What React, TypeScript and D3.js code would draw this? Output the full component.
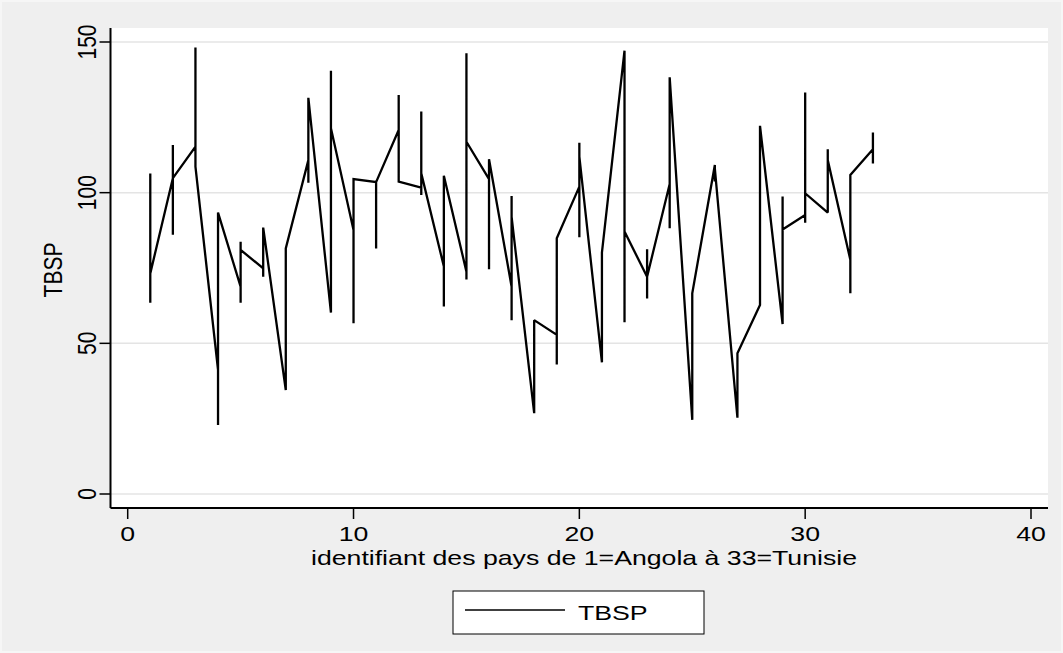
import React from 'react';
import * as d3 from 'd3';

// Country identifiers (1 = Angola ... 33 = Tunisie)
const countryIds: number[] = [
  1, 2, 3, 4, 5, 6, 7, 8, 9, 10, 11, 12, 13, 14, 15, 16, 17,
  18, 19, 20, 21, 22, 23, 24, 25, 26, 27, 28, 29, 30, 31, 32, 33,
];

// TBSP observations for each country, in data (sort) order
const tbspByCountry: number[][] = [
  [106.4, 63.5, 91.5, 73.2],
  [104.8, 86, 115.8, 104.8],
  [115.3, 148.2, 108.6],
  [41.2, 22.9, 93.4],
  [68.8, 63.5, 83.7, 81],
  [74.9, 72.1, 88.4],
  [34.5, 81.5],
  [110.8, 103.3, 131.5],
  [60.2, 140.5, 121.4],
  [87.6, 56.7, 104.5],
  [103.5, 81.5, 103.5],
  [120.8, 132.4, 103.7],
  [101.7, 99.2, 126.9, 106.4],
  [75.5, 62.2, 105.6],
  [73.8, 71.2, 146.3, 116.9],
  [104.5, 74.6, 111.1],
  [68.8, 57.7, 98.9, 92],
  [26.8, 57.7],
  [52.8, 43, 84.9],
  [102, 85.2, 116.6, 112],
  [43.7, 80.1],
  [147.1, 57, 87.1],
  [72.1, 64.9, 81.2, 72.1],
  [102.9, 88.2, 138.3],
  [24.6, 66.6],
  [109.2, 103.7, 108],
  [25.3, 46.7],
  [62.7, 122.2],
  [56.4, 98.7, 87.8],
  [92.6, 90, 133.2, 99.8],
  [93.4, 114.4, 110.8],
  [77.7, 66.6, 105.9],
  [114.4, 109.7, 120],
];

const xTicks: number[] = [0, 10, 20, 30, 40];
const yTicks: number[] = [0, 50, 100, 150];
const xTitle = 'identifiant des pays de 1=Angola à 33=Tunisie';
const yTitle = 'TBSP';
const legendLabel = 'TBSP';

const FONT = '"Liberation Sans", Arial, Helvetica, sans-serif';
const SX = 1.27; // horizontal stretch of the exported graph text
const FS = 21;

function T({
  x,
  y,
  rotate = false,
  anchor = 'middle',
  children,
}: {
  x: number;
  y: number;
  rotate?: boolean;
  anchor?: string;
  children: React.ReactNode;
}) {
  return (
    <g transform={`translate(${x},${y}) scale(${SX},1)${rotate ? ' rotate(-90)' : ''}`}>
      <text x={0} y={0} textAnchor={anchor} fontSize={FS} fill="#000">
        {children}
      </text>
    </g>
  );
}

export default function App() {
  const W = 1063;
  const H = 653;
  const plot = { left: 110.5, right: 1048, top: 28, bottom: 508 };

  const x = d3.scaleLinear().domain([0, 40]).range([127.7, 1031]);
  const y = d3.scaleLinear().domain([0, 150]).range([494, 42]);

  const points: [number, number][] = countryIds.flatMap((id, i) =>
    tbspByCountry[i].map((v) => [id, v] as [number, number])
  );
  const linePath = d3
    .line<[number, number]>()
    .x((d) => x(d[0]))
    .y((d) => y(d[1]))(points) as string;

  const xMid = 584;

  return (
    <svg
      width={W}
      height={H}
      style={{ position: 'absolute', left: 0, top: 0, display: 'block' }}
      fontFamily={FONT}
    >
      <rect x={0} y={0} width={W} height={H} fill="#efefef" />
      <rect x={1} y={1} width={W - 2} height={H - 2} fill="none" stroke="#f6f6f6" strokeWidth={2} />
      <rect
        x={plot.left}
        y={plot.top}
        width={plot.right - plot.left}
        height={plot.bottom - plot.top}
        fill="#ffffff"
      />
      {/* gridlines */}
      {yTicks.map((t) => (
        <line
          key={'g' + t}
          x1={plot.left}
          x2={plot.right}
          y1={y(t)}
          y2={y(t)}
          stroke="#e4e4e4"
          strokeWidth={1.5}
        />
      ))}
      {/* data line */}
      <path d={linePath} fill="none" stroke="#000" strokeWidth={2.3} strokeLinejoin="miter" strokeMiterlimit={2} />
      {/* axes */}
      <line x1={plot.left} x2={plot.left} y1={plot.top} y2={plot.bottom} stroke="#000" strokeWidth={2} />
      <line x1={plot.left} x2={plot.right} y1={plot.bottom} y2={plot.bottom} stroke="#000" strokeWidth={2} />
      {yTicks.map((t) => (
        <g key={'y' + t}>
          <line x1={plot.left - 11} x2={plot.left} y1={y(t)} y2={y(t)} stroke="#000" strokeWidth={1.5} />
          <T x={96} y={y(t)} rotate>
            {t}
          </T>
        </g>
      ))}
      {xTicks.map((t) => (
        <g key={'x' + t}>
          <line x1={x(t)} x2={x(t)} y1={plot.bottom} y2={plot.bottom + 11} stroke="#000" strokeWidth={1.5} />
          <T x={x(t)} y={541}>
            {t}
          </T>
        </g>
      ))}
      <T x={xMid} y={565}>
        {xTitle}
      </T>
      <T x={62} y={270} rotate>
        {yTitle}
      </T>
      {/* legend */}
      <rect x={453} y={591} width={251} height={43} fill="#fff" stroke="#000" strokeWidth={1} />
      <line x1={465} x2={565} y1={610} y2={610} stroke="#000" strokeWidth={1.4} />
      <T x={578} y={620} anchor="start">
        {legendLabel}
      </T>
    </svg>
  );
}
